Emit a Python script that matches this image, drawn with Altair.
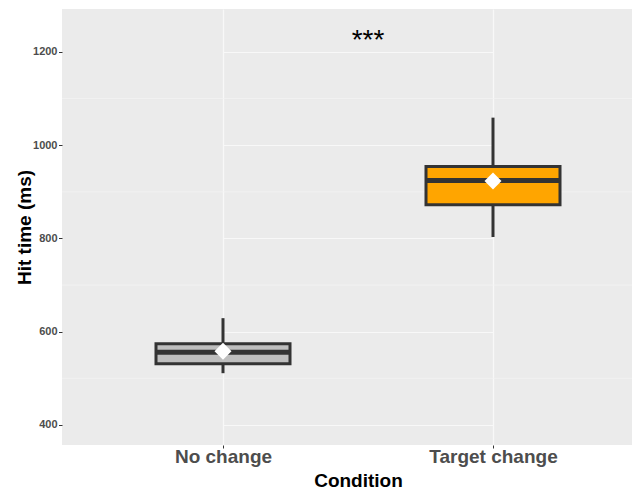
import altair as alt
import pandas as pd

conditions = ["No change", "Target change"]
whisker_low = [511, 803]
q1 = [531, 872]
median = [556, 924]
q3 = [574, 954]
whisker_high = [629, 1059]
mean = [558, 923]
fills = ["#BEBEBE", "#FFA500"]

major_ticks = [400, 600, 800, 1000, 1200]
minor_ticks = [500, 700, 900, 1100]
y_domain = [357, 1292]

sig_label = ["***"]
sig_y = [1224]

df = pd.DataFrame({
    "Condition": conditions, "lo": whisker_low, "q1": q1, "med": median,
    "q3": q3, "hi": whisker_high, "mean": mean, "fill": fills,
})
minor_df = pd.DataFrame({"v": minor_ticks})
sig_df = pd.DataFrame({"label": sig_label, "y": sig_y})

FONT = "Liberation Sans"

x_enc = alt.X(
    "Condition:N", sort=conditions,
    scale=alt.Scale(type="point", range=[161, 431], padding=0),
    axis=alt.Axis(
        title="Condition", grid=True, gridColor="#F8F8F8", gridWidth=1.2,
        domain=False, ticks=True, tickColor="#333333", tickSize=3, tickWidth=1,
        labelFont=FONT, labelFontSize=19, labelFontWeight="bold", labelColor="#4D4D4D",
        labelPadding=-1, labelAngle=0,
        titleFont=FONT, titleFontSize=19, titleFontWeight="bold", titleColor="black",
        titleX=296, titleY=41, titleBaseline="alphabetic",
    ),
)
y_scale = alt.Scale(domain=y_domain, nice=False, zero=False)
y_axis = alt.Axis(
    title="Hit time (ms)", values=major_ticks, format="d",
    grid=True, gridColor="#F8F8F8", gridWidth=1.2,
    domain=False, ticks=True, tickColor="#333333", tickSize=3.5, tickWidth=1,
    labelFont=FONT, labelFontSize=11, labelFontWeight="bold", labelColor="#4D4D4D",
    labelPadding=1.5,
    titleFont=FONT, titleFontSize=19, titleFontWeight="bold", titleColor="black",
    titleX=-38, titleBaseline="middle",
)

base = alt.Chart(df)

minor = alt.Chart(minor_df).mark_rule(color="#F3F3F3", strokeWidth=0.8).encode(
    y=alt.Y("v:Q", scale=y_scale, axis=y_axis)
)

whisk = base.mark_rule(color="#333333", strokeWidth=3).encode(
    x=x_enc,
    y=alt.Y("lo:Q", scale=y_scale, axis=y_axis),
    y2="hi:Q",
)

box = base.mark_bar(size=134, stroke="#333333", strokeWidth=3).encode(
    x=alt.X("Condition:N", sort=conditions),
    y=alt.Y("q1:Q"),
    y2="q3:Q",
    fill=alt.Fill("fill:N", scale=None),
)

med = base.mark_tick(color="#333333", thickness=5, size=134, opacity=1).encode(
    x=alt.X("Condition:N", sort=conditions),
    y=alt.Y("med:Q"),
)

mn = base.mark_point(shape="diamond", filled=True, color="white", size=289, opacity=1).encode(
    x=alt.X("Condition:N", sort=conditions),
    y=alt.Y("mean:Q"),
)

sig = alt.Chart(sig_df).mark_text(font=FONT, fontSize=28, color="black", baseline="middle").encode(
    x=alt.value(306),
    y=alt.Y("y:Q"),
    text="label:N",
)

chart = alt.layer(minor, whisk, box, med, mn, sig).properties(
    width=570, height=436,
    padding={"left": 54, "top": 1, "right": 0, "bottom": 45},
    autosize=alt.AutoSizeParams(type="none"),
).configure_view(fill="#EBEBEB", stroke=None)

chart.save("out.html", embed_options={"renderer": "svg", "actions": False})
